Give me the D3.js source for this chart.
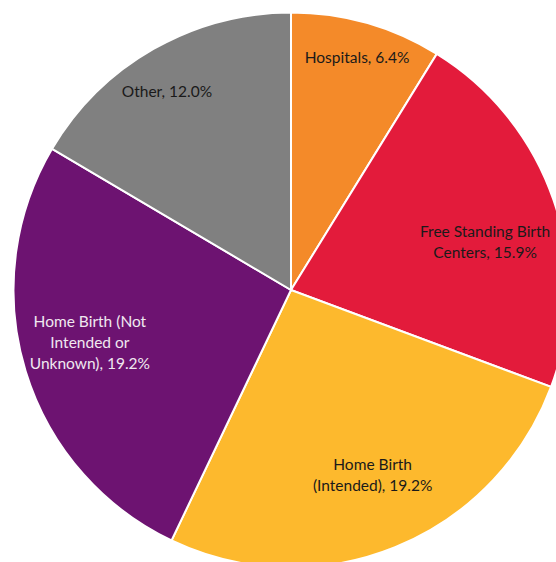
<!DOCTYPE html>
<html><head><meta charset="utf-8">
<script src="https://cdn.jsdelivr.net/npm/d3@7"></script>
<style>html,body{margin:0;padding:0;background:#fff;overflow:hidden}</style>
</head><body>
<svg id="c" width="556" height="562"></svg>
<script>
const categories = ["Hospitals", "Free Standing Birth Centers", "Home Birth (Intended)", "Home Birth (Not Intended or Unknown)", "Other"];
const values = [6.4, 15.9, 19.2, 19.2, 12.0];
const labelLines = [
  ["Hospitals, 6.4%"],
  ["Free Standing Birth", "Centers, 15.9%"],
  ["Home Birth", "(Intended), 19.2%"],
  ["Home Birth (Not", "Intended or", "Unknown), 19.2%"],
  ["Other, 12.0%"]
];
const colors = ["#F48A29", "#E31B3B", "#FDB92D", "#6D1371", "#808080"];
const textColors = ["#1a1a1a", "#1a1a1a", "#1a1a1a", "#f0e8f0", "#1a1a1a"];
// label placement (layout): radius and angular nudge in degrees
const labelRadius = [242, 200, 202, 208, 234];
const labelNudge = [0, 5, -1.8, 2.2, -2.3];

const cx = 291, cy = 290, R = 277.5;
const svg = d3.select("#c");
const g = svg.append("g").attr("transform", `translate(${cx},${cy})`);
const data = categories.map((c, i) => ({cat: c, value: values[i], i}));
const pie = d3.pie().value(d => d.value).sort(null);
const arcs = pie(data);
const arc = d3.arc().innerRadius(0).outerRadius(R);

g.selectAll("path").data(arcs).enter().append("path")
  .attr("d", arc)
  .attr("fill", d => colors[d.data.i])
  .attr("stroke", "#fff").attr("stroke-width", 2);

const lh = 21;
arcs.forEach(d => {
  const i = d.data.i;
  const a = (d.startAngle + d.endAngle) / 2 + labelNudge[i] * Math.PI / 180;
  const r = labelRadius[i];
  const x = r * Math.sin(a), y = -r * Math.cos(a);
  const lines = labelLines[i];
  const t = g.append("text")
    .attr("x", x).attr("y", y)
    .attr("text-anchor", "middle")
    .attr("font-family", "Lato, 'Open Sans', sans-serif")
    .attr("font-size", 15.5)
    .attr("fill", textColors[i]);
  lines.forEach((ln, k) => {
    t.append("tspan").attr("x", x)
      .attr("y", y + (k - (lines.length - 1) / 2) * lh)
      .attr("dy", "0.35em")
      .text(ln);
  });
});
</script>
</body></html>
